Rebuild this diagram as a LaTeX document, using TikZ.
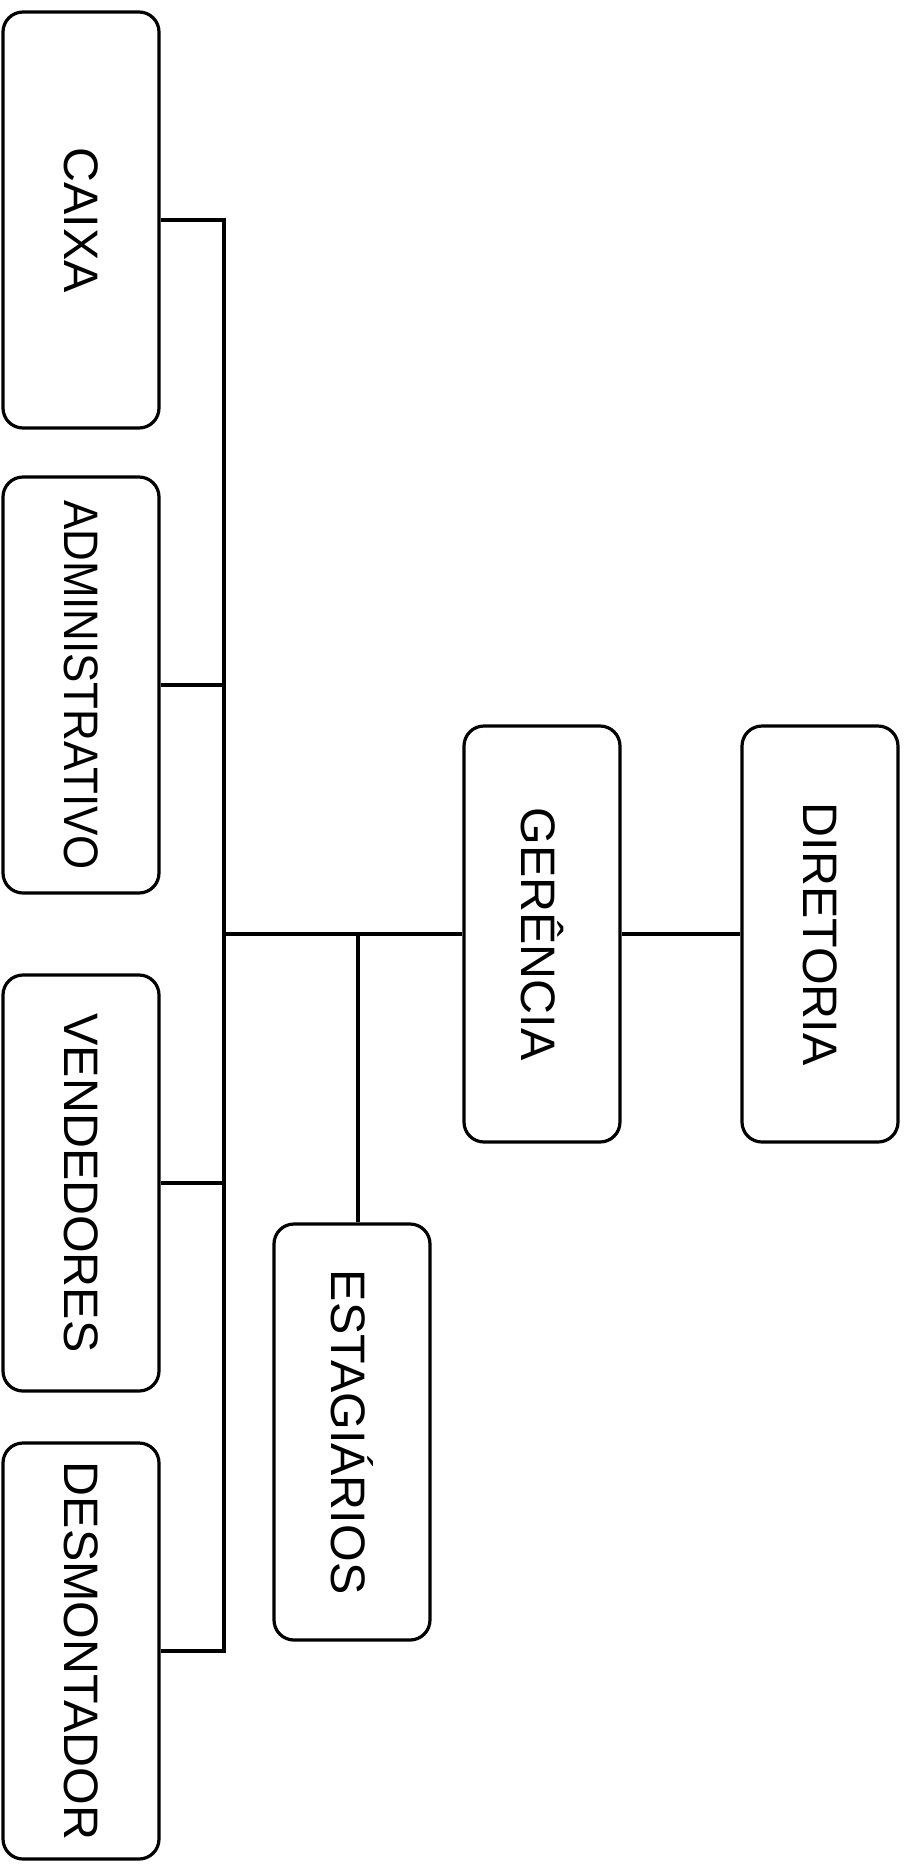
\documentclass[tikz,border=0pt]{standalone}
\usepackage{fontspec}
\setmainfont{Liberation Sans}
\usepackage{tikz}

\tikzset{
  setor/.style={draw,line width=1.6pt,rounded corners=10pt,inner sep=0pt,
    minimum width=78pt,minimum height=208pt,font=\fontsize{24.2}{26}\selectfont},
  liga/.style={line width=1.6pt}
}
\newcommand{\vtexto}[1]{\rotatebox{-90}{#1}}

\begin{document}
\begin{tikzpicture}[x=0.5pt,y=0.5pt]
          \useasboundingbox (0,0) rectangle (912,-1869);
          % coluna da esquerda
          \node[setor] (caixa) at (81,-220) {\vtexto{CAIXA}};
          \node[setor] (admin) at (81,-685) {\vtexto{\scalebox{0.907}[1]{ADMINISTRATIVO}}};
          \node[setor] (vend) at (81,-1183) {\vtexto{VENDEDORES}};
          \node[setor] (desm) at (81,-1651) {\vtexto{DESMONTADOR}};
          % chefia
          \node[setor] (ger) at (542,-934) {\vtexto{GERÊNCIA}};
          \node[setor] (dir) at (820,-934) {\vtexto{DIRETORIA}};
          \node[setor] (est) at (352,-1432) {\vtexto{ESTAGIÁRIOS}};
          \coordinate (tronco) at (224,-934);
          \coordinate (junta) at (358,-934);
          \draw[liga] (ger.east) -- (dir.west);
          \draw[liga] (ger.west) -- (tronco);
          \draw[liga] (junta) -- (junta |- est.north);
          \draw[liga] (caixa.east) -| (tronco);
          \draw[liga] (admin.east) -| (tronco);
          \draw[liga] (vend.east) -| (tronco);
          \draw[liga] (desm.east) -| (tronco);
        \end{tikzpicture}
\end{document}
